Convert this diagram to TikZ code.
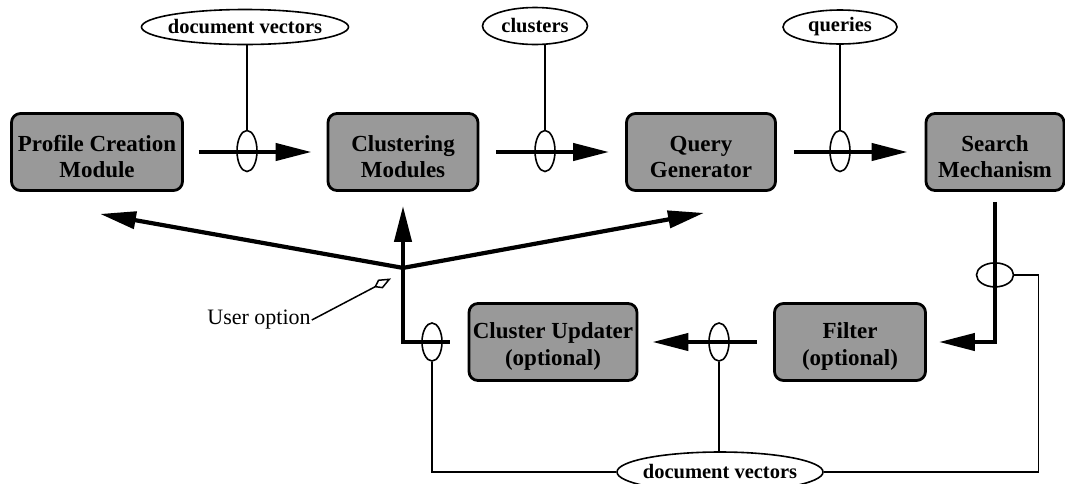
\documentclass[tikz,border=0pt]{standalone}
\usepackage{fontspec}
\setmainfont{Liberation Serif}
\usetikzlibrary{arrows.meta,shapes.geometric,calc}
\definecolor{boxgray}{gray}{0.6}
\newcommand\toppad{\rule{0pt}{25pt}}
\begin{document}
\begin{tikzpicture}[x=1pt,y=-1pt,
  proc/.style={draw=black, line width=2.8pt, fill=boxgray, rounded corners=9pt,
    minimum height=77pt, inner sep=0pt, align=center,
    font=\fontsize{23}{26.5}\selectfont\bfseries},
  lab/.style={draw, ellipse, line width=1.6pt, inner sep=0pt,
    font=\fontsize{20.5}{24}\selectfont\bfseries},
  tap/.style={draw, ellipse, line width=1.6pt, minimum width=20pt,
    minimum height=41pt, inner sep=0pt},
  flow/.style={line width=4.2pt, -{Triangle[length=36pt,width=17pt]}},
  thinline/.style={line width=1.6pt}
]
\useasboundingbox (0,0) rectangle (1065,483);

% process boxes
\node[proc, minimum width=171pt] (prof)   at (97,152)  {\toppad Profile Creation\\Module};
\node[proc, minimum width=150pt] (clus)   at (403,152) {\toppad Clustering\\Modules};
\node[proc, minimum width=149pt] (query)  at (701,152) {\toppad Query\\Generator};
\node[proc, minimum width=138pt] (search) at (995,152) {\toppad Search\\Mechanism};
\node[proc, minimum width=168pt] (cu)     at (553,342) {\toppad Cluster Updater\\(optional)};
\node[proc, minimum width=151pt] (filter) at (850,342) {\toppad Filter\\(optional)};

% data labels
\node[lab, minimum width=207pt, minimum height=35pt] (l1) at (245,27) {\makebox[0pt]{document vectors}};
\node[lab, minimum width=105pt, minimum height=37pt] (l2) at (535,26) {\makebox[0pt]{clusters}};
\node[lab, minimum width=114pt, minimum height=34pt] (l3) at (840,27) {\makebox[0pt]{queries}};
\node[lab, minimum width=206pt, minimum height=40pt] (l4) at (720,472) {\makebox[0pt]{document vectors}};

% top row flows
\draw[flow] ($(prof.east)+(15,0)$)  -- ($(clus.west)+(-15,0)$);
\draw[flow] ($(clus.east)+(17,0)$)  -- ($(query.west)+(-16,0)$);
\draw[flow] ($(query.east)+(17,0)$) -- ($(search.west)+(-17,0)$);

\node[tap] (t1) at (247,151) {};
\node[tap] (t2) at (545,151) {};
\node[tap] (t3) at (840,151) {};
\draw[thinline] (t1.north) -- (t1.north |- l1.south);
\draw[thinline] (t2.north) -- (t2.north |- l2.south);
\draw[thinline] (t3.north) -- (t3.north |- l3.south);

% search -> filter
\coordinate (sdown) at ($(search.south)+(0,10)$);
\draw[flow] (sdown) |- ($(filter.east)+(12,0)$);
\node[tap, minimum width=37pt, minimum height=24pt] (t4) at ($(search.south)+(0,83)$) {};
\draw[thinline] (t4.east) -- ++(24,0) |- (l4.east);

% filter -> cluster updater
\draw[flow] ($(filter.west)+(-16,0)$) -- ($(cu.east)+(14,0)$);
\node[tap, minimum height=38pt] (t5) at (719,342) {};
\draw[thinline] (t5.south) -- (t5.south |- l4.north);

% cluster updater -> clustering modules and user option branches
\coordinate (cuL) at ($(cu.west)+(-18,0)$);
\coordinate (junc) at ($(clus.south)+(0,76)$);
\draw[flow] (cuL) -| (junc) -- ($(clus.south)+(0,14)$);
\node[tap, minimum height=38pt] (t6) at (432,342) {};
\draw[thinline] (t6.south) |- (l4.west);

\draw[flow] (junc) -- ($(prof.south)+(3,22)$);
\draw[flow] (junc) -- ($(query.south)+(3,21)$);

% user option
\node[font=\fontsize{22}{26}\selectfont, inner sep=1pt] (uo) at (259,320) {User option};
\coordinate (uotip) at ($(junc)+(-12,10.5)$);
\draw[line width=1.5pt, -{Kite[open,length=19pt,width=10pt,inset=7pt]}] (uo.east) -- (uotip);
\end{tikzpicture}
\end{document}
